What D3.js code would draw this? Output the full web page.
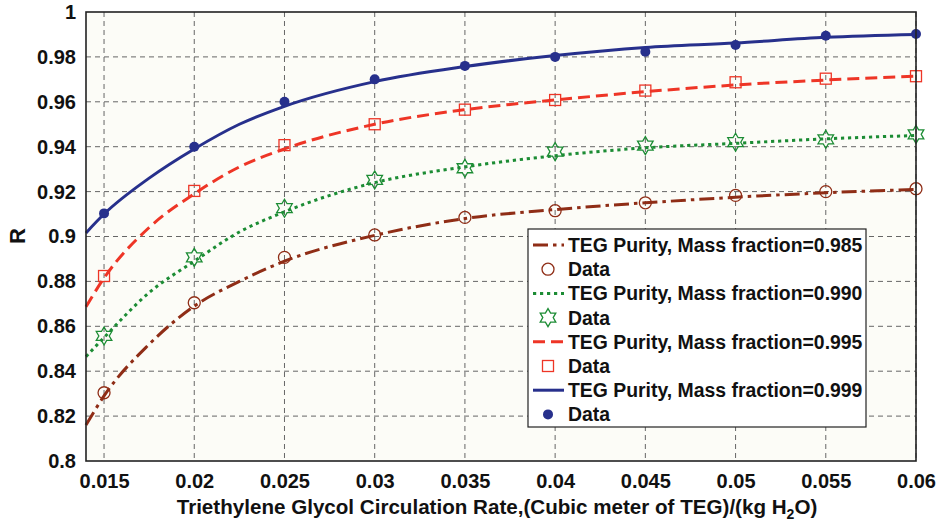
<!DOCTYPE html>
<html>
<head>
<meta charset="utf-8">
<script src="https://d3js.org/d3.v7.min.js"></script>
<style>
  body { margin: 0; background: #fff; }
  svg { display: block; font-family: "Liberation Sans", Arial, sans-serif; }
</style>
</head>
<body>
<svg id="chart" width="940" height="525"></svg>
<script>
// Data points (measured)
const dataX = [0.015, 0.02, 0.025, 0.03, 0.035, 0.04, 0.045, 0.05, 0.055, 0.06];
const data985 = [0.8304, 0.8705, 0.8907, 0.9007, 0.9085, 0.9115, 0.9150, 0.9183, 0.9200, 0.9213];
const data990 = [0.8557, 0.8907, 0.9126, 0.9252, 0.9304, 0.9378, 0.9405, 0.9420, 0.9433, 0.9455];
const data995 = [0.8824, 0.9203, 0.9407, 0.9500, 0.9565, 0.9608, 0.9650, 0.9687, 0.9703, 0.9714];
const data999 = [0.9103, 0.9400, 0.9600, 0.9700, 0.9760, 0.9800, 0.9823, 0.9853, 0.9894, 0.9902];

// Model curves
const lineX = [0.014, 0.015, 0.0175, 0.02, 0.0225, 0.025, 0.03, 0.035, 0.04, 0.045, 0.05, 0.055, 0.06];
const line985 = [0.816, 0.829, 0.852, 0.869, 0.880, 0.889, 0.9005, 0.908, 0.912, 0.915, 0.9175, 0.9195, 0.921];
const line990 = [0.8465, 0.855, 0.875, 0.889, 0.902, 0.911, 0.924, 0.931, 0.936, 0.9395, 0.9415, 0.9435, 0.945];
const line995 = [0.8687, 0.8815, 0.904, 0.919, 0.931, 0.939, 0.950, 0.9565, 0.9608, 0.9645, 0.9675, 0.9697, 0.9714];
const line999 = [0.9016, 0.910, 0.926, 0.939, 0.950, 0.958, 0.969, 0.9757, 0.9806, 0.9842, 0.9862, 0.9887, 0.990];

const xTicks = [0.015, 0.02, 0.025, 0.03, 0.035, 0.04, 0.045, 0.05, 0.055, 0.06];
const yTicks = [0.8, 0.82, 0.84, 0.86, 0.88, 0.9, 0.92, 0.94, 0.96, 0.98, 1];
const purities = ['0.985', '0.990', '0.995', '0.999'];

const series = [
  { purity: purities[0], line: line985, pts: data985, color: '#8f2d16', dash: '15,5,3.5,5', marker: 'circle' },
  { purity: purities[1], line: line990, pts: data990, color: '#1c8c34', dash: '3.2,3.8', marker: 'star' },
  { purity: purities[2], line: line995, pts: data995, color: '#ee3526', dash: '12,6', marker: 'square' },
  { purity: purities[3], line: line999, pts: data999, color: '#27308c', dash: null, marker: 'dot' },
];

const svg = d3.select('#chart');
const m = { left: 86, right: 916, top: 12, bottom: 461 };

const x = d3.scaleLinear().domain([0.014, 0.06]).range([m.left, m.right]);
const y = d3.scaleLinear().domain([0.8, 1]).range([m.bottom, m.top]);

// Plot background
svg.append('rect')
  .attr('x', m.left).attr('y', m.top)
  .attr('width', m.right - m.left).attr('height', m.bottom - m.top)
  .attr('fill', '#fcfcf7');

// Grid
const grid = svg.append('g').attr('stroke', '#666').attr('stroke-width', 1).attr('stroke-dasharray', '5,4');
xTicks.forEach(t => {
  grid.append('line').attr('x1', x(t)).attr('x2', x(t)).attr('y1', m.top).attr('y2', m.bottom);
});
yTicks.slice(1, -1).forEach(t => {
  grid.append('line').attr('x1', m.left).attr('x2', m.right).attr('y1', y(t)).attr('y2', y(t));
});

// Axes (labels only, frame drawn separately)
const xAxis = svg.append('g')
  .attr('transform', `translate(0,${m.bottom})`)
  .call(d3.axisBottom(x).tickValues(xTicks).tickSize(0).tickPadding(13).tickFormat(d => String(+d.toFixed(3))));
const yAxis = svg.append('g')
  .attr('transform', `translate(${m.left},0)`)
  .call(d3.axisLeft(y).tickValues(yTicks).tickSize(0).tickPadding(10).tickFormat(d => String(+d.toFixed(2))));
[xAxis, yAxis].forEach(a => {
  a.select('.domain').remove();
  a.selectAll('text')
    .attr('font-family', '"Liberation Sans", Arial, sans-serif')
    .attr('font-size', '20px')
    .attr('font-weight', 'bold')
    .attr('fill', '#111');
});

// Curves
const lineGen = d3.line().x((d, i) => x(lineX[i])).y(d => y(d)).curve(d3.curveMonotoneX);
series.forEach(s => {
  svg.append('path')
    .attr('d', lineGen(s.line))
    .attr('fill', 'none')
    .attr('stroke', s.color)
    .attr('stroke-width', 3)
    .attr('stroke-dasharray', s.dash || 'none');
});

// Markers
function starPath(r) {
  const pts = [];
  for (let k = 0; k < 12; k++) {
    const a = -Math.PI / 2 + k * Math.PI / 6;
    const rr = k % 2 === 0 ? r : r / Math.sqrt(3);
    pts.push([rr * Math.cos(a), rr * Math.sin(a)]);
  }
  return 'M' + pts.map(p => p[0].toFixed(2) + ',' + p[1].toFixed(2)).join('L') + 'Z';
}

function drawMarker(g, type, color) {
  if (type === 'circle') {
    g.append('circle').attr('r', 6).attr('fill', 'none').attr('stroke', color).attr('stroke-width', 1.3);
  } else if (type === 'star') {
    g.append('path').attr('d', starPath(9)).attr('fill', 'none').attr('stroke', color).attr('stroke-width', 1.3);
  } else if (type === 'square') {
    g.append('rect').attr('x', -5.5).attr('y', -5.5).attr('width', 11).attr('height', 11)
      .attr('fill', 'none').attr('stroke', color).attr('stroke-width', 1.3);
  } else {
    g.append('circle').attr('r', 5).attr('fill', color);
  }
}

series.forEach(s => {
  s.pts.forEach((v, i) => {
    const g = svg.append('g').attr('transform', `translate(${x(dataX[i])},${y(v)})`);
    drawMarker(g, s.marker, s.color);
  });
});

// Frame
svg.append('rect')
  .attr('x', m.left).attr('y', m.top)
  .attr('width', m.right - m.left).attr('height', m.bottom - m.top)
  .attr('fill', 'none').attr('stroke', '#222').attr('stroke-width', 1.6);

// Legend
const lg = { x: 528, y: 229, w: 338, h: 198, row: 24.2, first: 245 };
svg.append('rect')
  .attr('x', lg.x).attr('y', lg.y).attr('width', lg.w).attr('height', lg.h)
  .attr('fill', '#fff').attr('stroke', '#222').attr('stroke-width', 1.2);

series.forEach((s, i) => {
  const yl = lg.first + lg.row * (2 * i);
  const yd = lg.first + lg.row * (2 * i + 1);
  svg.append('line')
    .attr('x1', 533).attr('x2', 564).attr('y1', yl).attr('y2', yl)
    .attr('stroke', s.color).attr('stroke-width', 3)
    .attr('stroke-dasharray', s.dash || 'none');
  svg.append('text')
    .attr('x', 568).attr('y', yl).attr('dy', '0.36em')
    .attr('font-size', '19.4px').attr('font-weight', 'bold').attr('fill', '#111')
    .text(`TEG Purity, Mass fraction=${s.purity}`);
  const g = svg.append('g').attr('transform', `translate(548,${yd})`);
  drawMarker(g, s.marker, s.color);
  svg.append('text')
    .attr('x', 568).attr('y', yd).attr('dy', '0.36em')
    .attr('font-size', '19.4px').attr('font-weight', 'bold').attr('fill', '#111')
    .text('Data');
});

// Axis titles
const xt = svg.append('text')
  .attr('x', 497).attr('y', 514)
  .attr('text-anchor', 'middle')
  .attr('font-size', '20.6px').attr('font-weight', 'bold').attr('fill', '#111');
xt.append('tspan').text('Triethylene Glycol Circulation Rate,(Cubic meter of TEG)/(kg H');
xt.append('tspan').attr('font-size', '14px').attr('dy', 5).text('2');
xt.append('tspan').attr('dy', -5).text('O)');

svg.append('text')
  .attr('transform', 'translate(25,236) rotate(-90)')
  .attr('text-anchor', 'middle')
  .attr('font-size', '22px').attr('font-weight', 'bold').attr('fill', '#111')
  .text('R');
</script>
</body>
</html>
